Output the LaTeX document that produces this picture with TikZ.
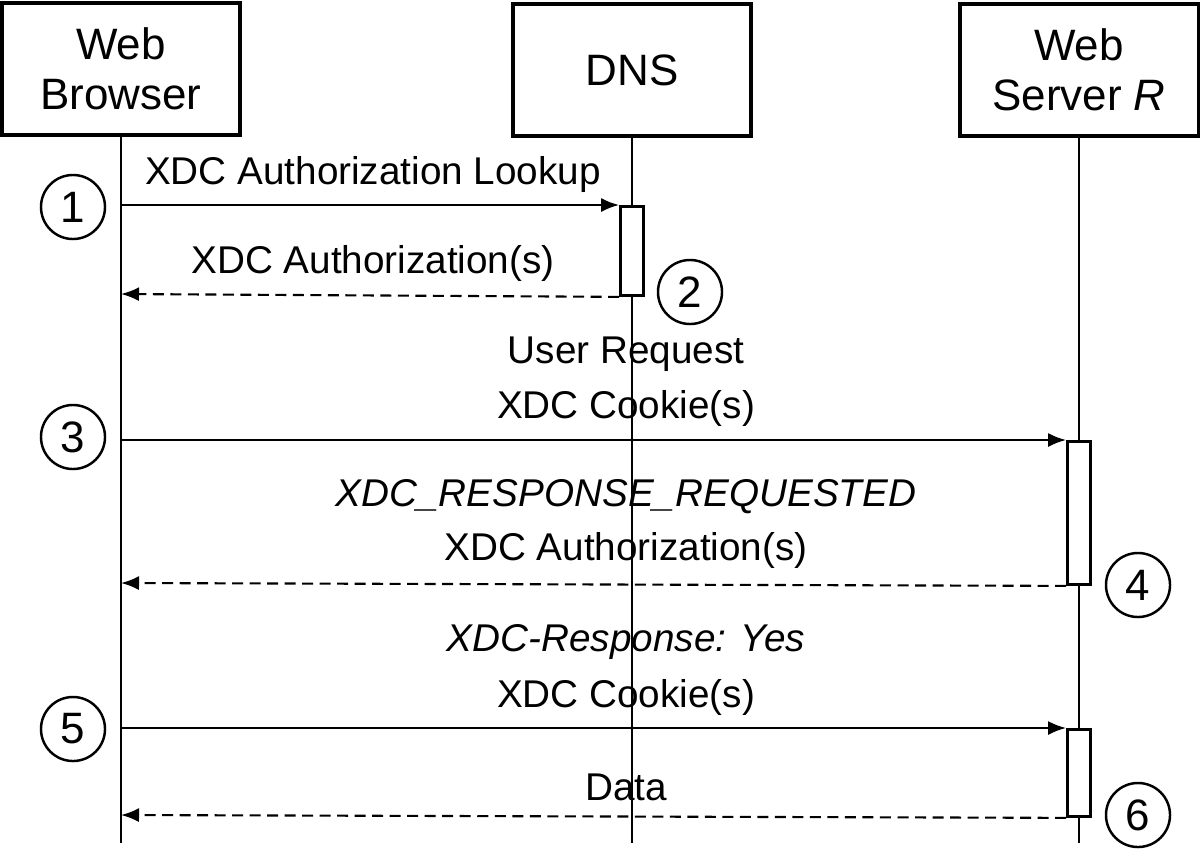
\documentclass[tikz,border=0pt]{standalone}
\usepackage{fontspec}
\setmainfont{Liberation Sans}
\usepackage{tikz}
\usetikzlibrary{arrows.meta}
\tikzstyle{actor} = [rectangle, minimum width=2.38cm, minimum height=1.32cm, align=center, draw=black, line width=0.9pt, font=\fontsize{12.5}{14.3}\selectfont]
\tikzstyle{activation} = [rectangle, minimum width=0.23cm, draw=black, fill=white, line width=0.8pt, inner sep=0pt]
\tikzstyle{stepnum} = [circle, minimum size=0.64cm, inner sep=0pt, draw=black, line width=0.7pt, font=\fontsize{12.5}{14}\selectfont]
\tikzstyle{lifeline} = [line width=0.7pt]
\tikzstyle{msg} = [line width=0.6pt, -{Latex[length=0.18cm, width=0.14cm]}]
\tikzstyle{reply} = [msg, dash pattern=on 0.11cm off 0.065cm]
\tikzstyle{label} = [font=\fontsize{11}{14}\selectfont, inner sep=0pt]

\begin{document}
\begin{tikzpicture}[x=0.01cm, y=-0.01cm]
    \useasboundingbox (0,0) rectangle (1200,848);
    % participants
    \node (browser) [actor] at (121,69) {Web\\Browser};
    \node (dns) [actor] at (632,70) {DNS};
    \node (server) [actor] at (1079,70) {Web\\Server \textit{R}};
    \coordinate (browser-end) at (121,843);
    \coordinate (dns-end) at (632,843);
    \coordinate (server-end) at (1079,843);
    \draw [lifeline] (browser) -- (browser-end);
    \draw [lifeline] (dns) -- (dns-end);
    \draw [lifeline] (server) -- (server-end);
    % activations
    \node (act1) [activation, minimum height=0.89cm, anchor=north] at (632,205) {};
    \node (act2) [activation, minimum height=1.43cm, anchor=north] at (1079,440) {};
    \node (act3) [activation, minimum height=0.87cm, anchor=north] at (1079,728) {};
    % points on the browser lifeline
    \coordinate (b1) at (121,205);
    \coordinate (b2) at (121,294);
    \coordinate (b3) at (121,440);
    \coordinate (b4) at (121,583);
    \coordinate (b5) at (121,728);
    \coordinate (b6) at (121,815);
    % messages
    \draw [msg] (b1) -- (act1.north west);
    \draw [reply] (act1.south west) -- (b2);
    \draw [msg] (b3) -- (act2.north west);
    \draw [reply] (act2.south west) -- (b4);
    \draw [msg] (b5) -- (act3.north west);
    \draw [reply] (act3.south west) -- (b6);
    \node (l1) [label] at (373,174) {XDC Authorization Lookup};
    \node (l2) [label] at (373,263) {XDC Authorization(s)};
    \node (l3a) [label] at (626,354) {User Request};
    \node (l3b) [label] at (626,408) {XDC Cookie(s)};
    \node (l4a) [label] at (626,497) {\textit{XDC\_RESPONSE\_REQUESTED}};
    \node (l4b) [label] at (626,550) {XDC Authorization(s)};
    \node (l5a) [label] at (626,642) {\textit{XDC-Response: Yes}};
    \node (l5b) [label] at (626,697) {XDC Cookie(s)};
    \node (l6) [label] at (626,787) {Data};
    % step numbers
    \node (n1) [stepnum] at (73,207) {1};
    \node (n2) [stepnum] at (690,292) {2};
    \node (n3) [stepnum] at (73,437) {3};
    \node (n4) [stepnum] at (1138,585) {4};
    \node (n5) [stepnum] at (73,729) {5};
    \node (n6) [stepnum] at (1138,815) {6};
\end{tikzpicture}
\end{document}
